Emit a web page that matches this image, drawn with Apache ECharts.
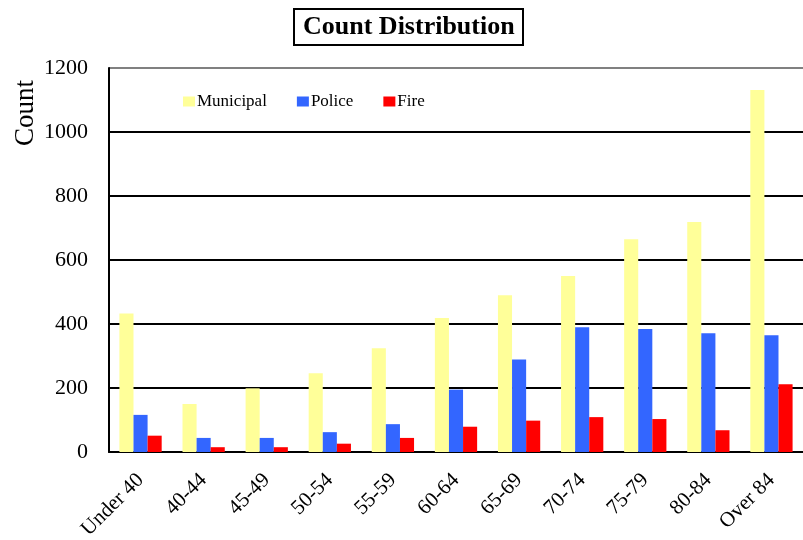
<!DOCTYPE html>
<html>
<head>
<meta charset="utf-8">
<script src="https://cdn.jsdelivr.net/npm/echarts@6/dist/echarts.min.js"></script>
<style>
  html, body { margin: 0; padding: 0; background: #fff; }
  #chart { width: 803px; height: 540px; }
</style>
</head>
<body>
<div id="chart"></div>
<script>
var ageGroups = ['Under 40', '40-44', '45-49', '50-54', '55-59', '60-64', '65-69', '70-74', '75-79', '80-84', 'Over 84'];
var municipal = [433, 150, 199, 246, 324, 419, 490, 550, 665, 719, 1131];
var police = [116, 44, 44, 62, 87, 195, 289, 390, 384, 371, 365];
var fire = [51, 15, 15, 26, 44, 79, 98, 109, 103, 68, 212];
var yTicks = [0, 200, 400, 600, 800, 1000, 1200];

var serif = '"Liberation Serif", "DejaVu Serif", serif';
var myChart = echarts.init(document.getElementById('chart'));

var option = {
   backgroundColor: '#fff',
   animation: false,
   title: {
      text: 'Count Distribution',
      left: 294,
      top: 9,
      padding: [5, 9, 5, 9],
      borderColor: '#000',
      borderWidth: 2,
      textStyle: { fontFamily: serif, fontWeight: 'bold', fontSize: 26, color: '#000' }
   },
   legend: {
      left: 178,
      top: 88,
      itemWidth: 12,
      itemHeight: 10,
      itemGap: 30,
      icon: 'rect',
      textStyle: { fontFamily: serif, fontSize: 17, color: '#000', padding: [0, 0, 0, -3] },
      data: ['Municipal', 'Police', 'Fire']
   },
   graphic: [{
      type: 'text',
      left: 12,
      top: 80,
      rotation: Math.PI / 2,
      style: { text: 'Count', font: '27px ' + serif, fill: '#000' }
   }],
   grid: { left: 109, top: 68, right: 0, bottom: 88, containLabel: false, outerBoundsMode: 'none' },
   xAxis: {
      type: 'category',
      data: ageGroups,
      axisLine: { lineStyle: { color: '#000', width: 2 } },
      axisTick: { show: false },
      axisLabel: { rotate: 45, margin: 25, interval: 0, fontFamily: serif, fontSize: 21, color: '#000' }
   },
   yAxis: {
      type: 'value',
      min: yTicks[0],
      max: yTicks[yTicks.length - 1],
      interval: 200,
      axisLine: { show: true, lineStyle: { color: '#000', width: 2 } },
      axisTick: { show: false },
      axisLabel: {
         margin: 21, fontFamily: serif, fontSize: 22, color: '#000',
         formatter: function (v) { return String(v); }
      },
      splitLine: { lineStyle: { color: ['#000', '#000', '#000', '#000', '#000', '#000', '#808080'], width: 2 } }
   },
   series: [
      { name: 'Municipal', type: 'bar', data: municipal, barGap: '0%', barCategoryGap: '33%', itemStyle: { color: '#FFFF99' } },
      { name: 'Police', type: 'bar', data: police, itemStyle: { color: '#3366FF' } },
      { name: 'Fire', type: 'bar', data: fire, itemStyle: { color: '#FF0000' } }
   ]
};

myChart.setOption(option);
</script>
</body>
</html>
